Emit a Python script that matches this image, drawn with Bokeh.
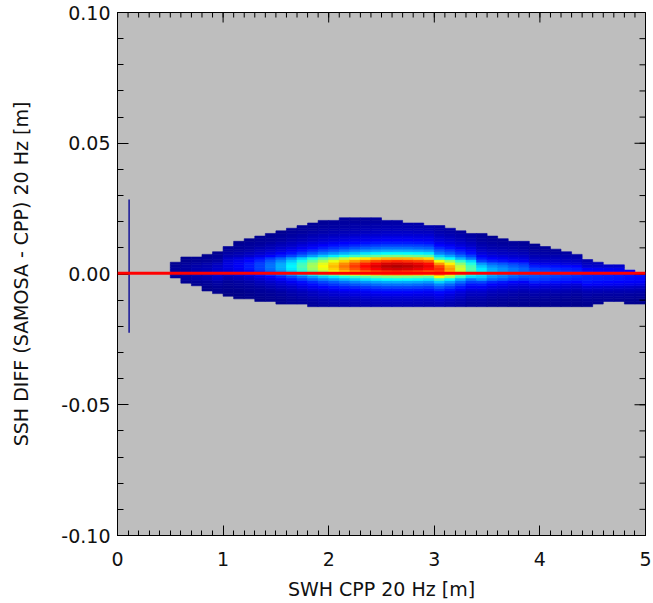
import math
from bokeh.plotting import figure
from bokeh.models import (FixedTicker, Span, ColumnDataSource,
                          LinearColorMapper, Range1d, NumeralTickFormatter)
from bokeh.transform import transform
from bokeh.embed import file_html
from bokeh.resources import INLINE

# ---------------- data ----------------
# column centres of the 2-D histogram (SWH, m), bin width 0.1 m
col_x = [0.55, 0.65, 0.75, 0.85, 0.95, 1.05, 1.15, 1.25, 1.35, 1.45,
         1.55, 1.65, 1.75, 1.85, 1.95, 2.05, 2.15, 2.25, 2.35, 2.45,
         2.55, 2.65, 2.75, 2.85, 2.95, 3.05, 3.15, 3.25, 3.35, 3.45,
         3.55, 3.65, 3.75, 3.85, 3.95, 4.05, 4.15, 4.25, 4.35, 4.45,
         4.55, 4.65, 4.75, 4.85, 4.95]
# upper / lower populated SSH-diff bin of each column (mm)
col_top_mm = [4, 6, 6, 7, 8, 10, 12, 13, 14, 15,
              16, 17, 18, 19, 20, 20, 21, 21, 21, 21,
              20, 20, 19, 19, 18, 18, 17, 16, 15, 15,
              14, 13, 12, 12, 11, 10, 9, 8, 7, 5,
              4, 3, 3, 1, 0]
col_bottom_mm = [-1, -3, -4, -6, -7, -8, -9, -9, -10, -10,
                 -11, -11, -11, -12, -12, -12, -12, -12, -12, -12,
                 -12, -12, -12, -12, -12, -12, -12, -12, -12, -12,
                 -12, -12, -12, -12, -12, -12, -12, -12, -12, -12,
                 -11, -10, -10, -11, -11]
# densest bin of each column (mm) and its relative density
col_center_mm = [1, 1, 1, 1, 1, 3, 3, 3, 3, 3,
                 3, 3, 3, 3, 3, 3, 3, 3, 3, 3,
                 3, 3, 3, 3, 3, 2, 2, 2, 2, 1,
                 1, 1, 1, 1, 0, 0, 0, 0, 0, -1,
                 -1, -1, -1, -1, -1]
col_level = [0.03, 0.04, 0.05, 0.06, 0.08, 0.10, 0.12, 0.15, 0.19, 0.24,
             0.30, 0.37, 0.45, 0.54, 0.62, 0.69, 0.76, 0.82, 0.87, 0.91,
             0.94, 0.95, 0.94, 0.92, 0.89, 0.83, 0.72, 0.58, 0.46, 0.37,
             0.31, 0.28, 0.25, 0.23, 0.21, 0.20, 0.19, 0.18, 0.17, 0.16,
             0.155, 0.15, 0.145, 0.14, 0.135]
# relative density versus distance (mm) from the densest bin
profile_rel = [1.0, 0.97, 0.88, 0.74, 0.52, 0.40, 0.31, 0.25, 0.20, 0.16,
               0.13, 0.11, 0.09, 0.075, 0.065, 0.055, 0.048, 0.042, 0.036, 0.031,
               0.027, 0.025, 0.022, 0.02, 0.018, 0.016]

# isolated column of points at very low SWH
spike_x = [0.11]
spike_top = [0.0285]
spike_bottom = [-0.0225]

# red reference line (mean difference)
ref_line_level = 0.0003

x_ticks = [0, 1, 2, 3, 4, 5]
y_ticks = [-0.10, -0.05, 0.0, 0.05, 0.10]
x_minor = [i / 10 for i in range(0, 51)]
y_minor = [i / 100 for i in range(-10, 11)]

x_label = "SWH CPP 20 Hz [m]"
y_label = "SSH DIFF (SAMOSA - CPP) 20 Hz [m]"

X0, X1 = 0, 5
Y0, Y1 = -0.1, 0.1

# ---------------- build histogram cells ----------------
half_w = 0.05
L, R, B, T, V = [], [], [], [], []
for x, top, bot, cen, lev in zip(col_x, col_top_mm, col_bottom_mm,
                                 col_center_mm, col_level):
    for k in range(bot, top + 1):
        d = min(abs(k - cen), len(profile_rel) - 1)
        L.append(x - half_w)
        R.append(x + half_w)
        B.append((k - 0.5) / 1000.0)
        T.append((k + 0.5) / 1000.0)
        V.append(lev * profile_rel[d])
cells = ColumnDataSource(dict(left=L, right=R, bottom=B, top=T, v=V))


def jet(t):
    def c(u):
        return int(round(255 * min(1.0, max(0.0, u))))
    r = c(1.5 - abs(4 * t - 3))
    g = c(1.5 - abs(4 * t - 2))
    b = c(1.5 - abs(4 * t - 1))
    return "#%02x%02x%02x" % (r, g, b)


palette = [jet(i / 255) for i in range(256)]
mapper = LinearColorMapper(palette=palette, low=0.0, high=1.0)

# ---------------- figure ----------------
p = figure(width=652, height=602, x_range=Range1d(X0, X1), y_range=Range1d(Y0, Y1),
           output_backend="svg", toolbar_location=None,
           min_border_left=117, min_border_right=7, min_border_top=12,
           min_border_bottom=67)
p.background_fill_color = "#bebebe"
p.border_fill_color = "white"
p.outline_line_color = "black"
p.outline_line_width = 1
p.grid.visible = False

p.quad(left="left", right="right", bottom="bottom", top="top", source=cells,
       fill_color=transform("v", mapper), line_color=transform("v", mapper),
       line_width=0.6)

p.segment(x0=spike_x, y0=spike_bottom, x1=spike_x, y1=spike_top,
          line_color="#1e1e9a", line_width=1.6)

p.add_layout(Span(location=ref_line_level, dimension="width",
                  line_color="#ff0000", line_width=3))

# tick marks on the top and right frame edges (half of each dash is clipped)
p.scatter(x=x_ticks, y=[Y1] * len(x_ticks), marker="dash", size=20,
          angle=math.pi / 2, line_color="black", line_width=1)
p.scatter(x=x_minor, y=[Y1] * len(x_minor), marker="dash", size=10,
          angle=math.pi / 2, line_color="black", line_width=1)
p.scatter(x=[X1] * len(y_ticks), y=y_ticks, marker="dash", size=22,
          line_color="black", line_width=1)
p.scatter(x=[X1] * len(y_minor), y=y_minor, marker="dash", size=12,
          line_color="black", line_width=1)

FONT = "DejaVu Sans"
FS = "19px"


def style(ax, ticks, minors, tin, mtin):
    ax.ticker = FixedTicker(ticks=ticks, minor_ticks=minors)
    ax.major_tick_in = tin
    ax.major_tick_out = 0
    ax.minor_tick_in = mtin
    ax.minor_tick_out = 0
    ax.axis_line_color = "black"
    ax.major_tick_line_color = "black"
    ax.minor_tick_line_color = "black"
    ax.major_label_text_font = FONT
    ax.major_label_text_font_size = FS
    ax.major_label_text_color = "#111111"
    ax.major_label_text_line_height = 1.0
    ax.axis_label_text_font = FONT
    ax.axis_label_text_font_size = FS
    ax.axis_label_text_font_style = "normal"
    ax.axis_label_text_color = "#111111"
    ax.axis_label_text_line_height = 1.0


xa = p.xaxis[0]
style(xa, x_ticks, x_minor, 10, 5)
xa.axis_label = x_label
xa.major_label_standoff = 16
xa.axis_label_standoff = 9

ya = p.yaxis[0]
style(ya, y_ticks, y_minor, 11, 6)
ya.axis_label = y_label
ya.formatter = NumeralTickFormatter(format="0.00")
ya.major_label_standoff = 7
ya.axis_label_standoff = 26

open("out.html", "w").write(file_html(p, INLINE))
